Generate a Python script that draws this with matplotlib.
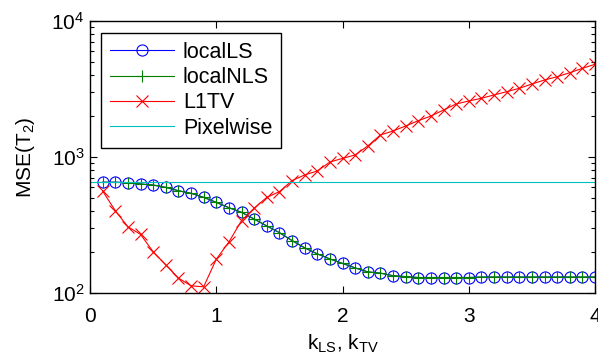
import numpy as np
import matplotlib
matplotlib.use("Agg")
import matplotlib.pyplot as plt
from matplotlib.ticker import LogLocator, NullFormatter, FixedLocator

plt.rcParams['font.family'] = ['Liberation Sans', 'DejaVu Sans']
plt.rcParams['mathtext.fontset'] = 'custom'
plt.rcParams['mathtext.rm'] = 'Liberation Sans'
plt.rcParams['mathtext.it'] = 'Liberation Sans'
plt.rcParams['mathtext.bf'] = 'Liberation Sans:bold'

k = [round(0.1 * i, 1) for i in range(1, 41)]

local_ls = [652, 652, 648, 633, 622, 598, 565, 541, 505, 464,
            424, 392, 350, 311, 278, 243, 215, 194, 178, 165,
            153, 143, 140, 134, 132, 130, 130, 130, 130, 130,
            131, 131, 131, 131, 131, 131, 131, 131, 131, 131]
local_nls = [652, 652, 648, 633, 622, 598, 565, 541, 505, 464,
             424, 392, 350, 311, 278, 243, 215, 194, 178, 165,
             153, 143, 140, 134, 132, 130, 130, 130, 130, 130,
             131, 131, 131, 131, 131, 131, 131, 131, 131, 131]
l1tv = [562, 403, 307, 270, 201, 161, 129, 113, 111, 177,
        237, 340, 420, 505, 556, 670, 738, 789, 918, 977,
        1035, 1205, 1452, 1553, 1690, 1849, 2001, 2216, 2453, 2581,
        2703, 2858, 3022, 3200, 3441, 3683, 3894, 4167, 4487, 4806]
pixelwise_value = 652
x_range = [0, 4]
y_range = [1e2, 1e4]
x_ticks = [0, 1, 2, 3, 4]

labels = ['localLS', 'localNLS', 'L1TV', 'Pixelwise']

fig = plt.figure(figsize=(5.98, 3.58), dpi=100)
ax = fig.add_axes([90/598, 1-293/358, 505/598, 272/358])

lw = 0.8
ax.plot(k, local_ls, color='#0000ff', lw=lw, marker='o', ms=8,
        mfc='none', mec='#0000ff', mew=0.8, label=labels[0])
ax.plot(k, local_nls, color='#007f00', lw=lw, marker='+', ms=8,
        mec='#007f00', mew=0.8, label=labels[1])
ax.plot(k, l1tv, color='#ff0000', lw=lw, marker='x', ms=8,
        mec='#ff0000', mew=0.8, label=labels[2])
ax.plot(x_range, [pixelwise_value, pixelwise_value], color='#00bfbf',
        lw=lw, label=labels[3])

ax.set_yscale('log')
ax.set_xlim(*x_range)
ax.set_ylim(*y_range)
ax.xaxis.set_major_locator(FixedLocator(x_ticks))
ax.yaxis.set_major_locator(LogLocator(base=10, numticks=5))
ax.yaxis.set_minor_locator(LogLocator(base=10, subs=np.arange(2, 10), numticks=20))
ax.yaxis.set_minor_formatter(NullFormatter())

ax.tick_params(which='both', direction='in', top=True, right=True,
               labelsize=15, width=0.8)
ax.tick_params(which='major', length=5)
ax.tick_params(axis='x', which='major', pad=10)
ax.tick_params(axis='y', which='major', pad=4)
ax.tick_params(which='minor', length=3)
for s in ax.spines.values():
    s.set_linewidth(1.0)

ax.set_xlabel(r'k$_{\mathrm{LS}}$, k$_{\mathrm{TV}}$', fontsize=15, labelpad=5)
ax.set_ylabel(r'MSE(T$_2$)', fontsize=15, labelpad=10)

leg = ax.legend(loc='upper left', bbox_to_anchor=(10.7/505, 1-11.7/272),
                borderaxespad=0, prop={'size': 15.5}, frameon=True, fancybox=False,
                edgecolor='black', handlelength=3.0, handletextpad=0.4,
                labelspacing=0.2, borderpad=0.42, numpoints=1)
leg.get_frame().set_linewidth(1.0)
leg.get_frame().set_alpha(1)

fig.savefig('out.png', dpi=100)
